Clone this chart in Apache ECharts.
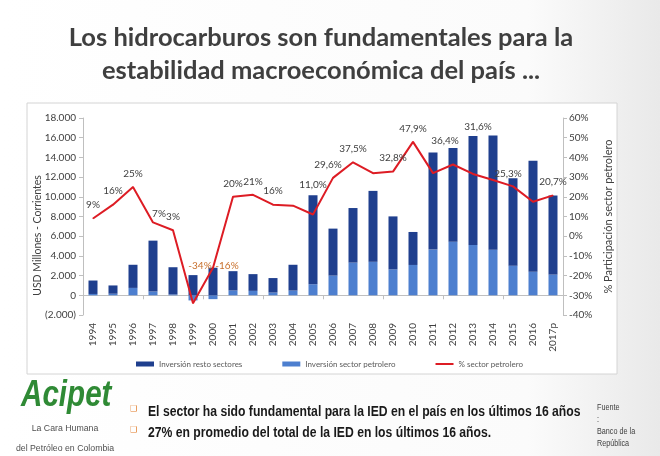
<!DOCTYPE html>
<html>
<head>
<meta charset="utf-8">
<script src="https://cdn.jsdelivr.net/npm/echarts@6/dist/echarts.min.js"></script>
<style>
  html, body { margin: 0; padding: 0; background: #fff; }
  #chart { width: 660px; height: 456px; }
</style>
</head>
<body>
<div id="chart"></div>
<script>
const years = ['1994', '1995', '1996', '1997', '1998', '1999', '2000', '2001', '2002', '2003', '2004', '2005',
  '2006', '2007', '2008', '2009', '2010', '2011', '2012', '2013', '2014', '2015', '2016', '2017p'];
// USD millones corrientes
const petrolero = [135, 160, 750, 390, 85, -520, -390, 490, 450, 280, 480, 1120,
  2000, 3320, 3400, 2630, 3080, 4640, 5440, 5110, 4630, 3010, 2390, 2100];
const resto = [1365, 840, 2350, 5160, 2765, 2050, 2800, 1960, 1700, 1470, 2620, 9050,
  4770, 5540, 7200, 5380, 3350, 9870, 9510, 11050, 11600, 8880, 11270, 8030];
// % participación sector petrolero
const pctPetrolero = [9, 16, 25, 7, 3, -34, -16, 20, 21, 16, 15.5, 11.0,
  29.6, 37.5, 32.0, 32.8, 47.9, 32.0, 36.4, 31.6, 28.5, 25.3, 17.5, 20.7];
const pctLabels = ['9%', '16%', '25%', '7%', '3%', '-34%', '-16%', '20%', '21%', '16%', '', '11,0%',
  '29,6%', '37,5%', '', '32,8%', '47,9%', '', '36,4%', '31,6%', '', '25,3%', '', '20,7%'];

const chart = echarts.init(document.getElementById('chart'));

// label nudges (x, y) so they sit like the original
const nudge = {
  3: [6, 2], 5: [7, -27], 6: [14, 9], 11: [0, -19], 12: [-5, -3],
  18: [-8, -13], 19: [5, -37], 21: [-5, -2]
};

const lineData = pctPetrolero.map((v, i) => {
  const off = nudge[i] || [0, -3];
  return {
    value: v,
    label: {
      show: pctLabels[i] !== '',
      formatter: pctLabels[i],
      offset: off,
      color: v < 0 ? '#c8702c' : '#404040'
    }
  };
});

const fmtUsd = v => {
  if (v === 0) return '0';
  const s = Math.abs(v).toLocaleString('de-DE');
  return v < 0 ? '(' + s + ')' : s;
};

const txt = '#404040';
const font = 'Lato';

chart.setOption({
  backgroundColor: {
    type: 'linear', x: 0, y: 0, x2: 1, y2: 0,
    colorStops: [{ offset: 0, color: '#ffffff' }, { offset: 0.8, color: '#fbfbfb' }, { offset: 1, color: '#e9e9e9' }]
  },
  animation: false,
  textStyle: { fontFamily: font },
  graphic: [
    {
      type: 'rect', z: -1, silent: true,
      shape: { x: 27, y: 103, width: 590, height: 271 },
      style: { fill: '#ffffff', stroke: '#d4d4d4', lineWidth: 1 }
    },
    {
      type: 'text', x: 321, y: 21,
      style: {
        text: 'Los hidrocarburos son fundamentales para la\nestabilidad macroeconómica del país ...',
        fill: '#3f3f3f', font: 'bold 25.5px Lato', align: 'center', lineHeight: 33
      }
    },
    {
      type: 'text', x: 21, y: 377, scaleX: 0.8,
      style: { text: 'Acipet', fill: '#2f8a35', font: 'italic bold 37px "Liberation Sans"' }
    },
    {
      type: 'text', x: 65, y: 418, scaleX: 0.92,
      style: {
        text: 'La Cara Humana\ndel Petróleo en Colombia', fill: '#505050',
        font: '9.5px "Liberation Sans"', align: 'center', lineHeight: 20
      }
    },
    {
      type: 'text', x: 130, y: 405,
      style: { text: '❑', fill: '#e07b28', font: '8px "DejaVu Sans"' }
    },
    {
      type: 'text', x: 130, y: 426,
      style: { text: '❑', fill: '#e07b28', font: '8px "DejaVu Sans"' }
    },
    {
      type: 'text', x: 148, y: 402, scaleX: 0.87,
      style: {
        text: 'El sector ha sido fundamental para la IED en el país en los últimos 16 años\n27% en promedio del total de la IED en los últimos 16 años.',
        fill: '#1a1a1a', font: 'bold 14px "Liberation Sans"', lineHeight: 21
      }
    },
    {
      type: 'text', x: 597, y: 402, scaleX: 0.85,
      style: {
        text: 'Fuente\n:\nBanco de la\nRepública', fill: '#404040',
        font: '8.5px "Liberation Sans"', lineHeight: 12
      }
    }
  ],
  grid: { left: 83, right: 97, top: 118, bottom: 141 },
  legend: {
    left: 131, top: 355, itemGap: 40, itemWidth: 18, itemHeight: 5,
    textStyle: { fontSize: 8, color: '#595959', fontFamily: font },
    data: [
      { name: 'Inversión resto sectores', icon: 'rect' },
      { name: 'Inversión sector petrolero', icon: 'rect' },
      { name: '% sector petrolero', icon: 'path://M0,0 L18,0 L18,2 L0,2 Z' }
    ]
  },
  xAxis: [
    {
      type: 'category', data: years,
      axisLine: { onZero: true, onZeroAxisIndex: 0, lineStyle: { color: '#bfbfbf' } },
      axisTick: { show: true, length: 4, lineStyle: { color: '#bfbfbf' } },
      axisLabel: { show: false }
    },
    {
      type: 'category', data: years, position: 'bottom',
      axisLine: { show: false, onZero: false },
      axisTick: { show: false },
      axisLabel: { rotate: 90, margin: 8, fontSize: 10, color: txt, fontFamily: font }
    }
  ],
  yAxis: [
    {
      type: 'value', min: -2000, max: 18000, interval: 2000,
      name: 'USD Millones - Corrientes', nameLocation: 'middle', nameGap: 40,
      nameMoveOverlap: false,
      nameTextStyle: { fontSize: 10.5, color: txt, fontFamily: font, padding: [0, 0, 0, -38] },
      axisLine: { show: true, lineStyle: { color: '#bfbfbf' } },
      axisTick: { show: true, length: 4, lineStyle: { color: '#bfbfbf' } },
      splitLine: { show: false },
      axisLabel: { formatter: fmtUsd, fontSize: 10, color: txt, margin: 7, fontFamily: font }
    },
    {
      type: 'value', min: -40, max: 60, interval: 10, position: 'right',
      name: '% Participación sector petrolero', nameLocation: 'middle', nameGap: 38,
      nameTextStyle: { fontSize: 11, color: txt, fontFamily: font },
      axisLine: { show: true, lineStyle: { color: '#bfbfbf' } },
      axisTick: { show: true, length: 4, lineStyle: { color: '#bfbfbf' } },
      splitLine: { show: false },
      axisLabel: { formatter: '{value}%', fontSize: 10, color: txt, margin: 6, fontFamily: font }
    }
  ],
  series: [
    {
      name: 'Inversión sector petrolero', type: 'bar', stack: 'inv',
      barWidth: 9, data: petrolero,
      itemStyle: { color: '#4d7fcf' }
    },
    {
      name: 'Inversión resto sectores', type: 'bar', stack: 'inv',
      barWidth: 9, data: resto,
      itemStyle: { color: '#1f3f8e' }
    },
    {
      name: '% sector petrolero', type: 'line', yAxisIndex: 1,
      data: lineData, symbol: 'circle', symbolSize: 1, showSymbol: true, z: 5,
      lineStyle: { color: '#dd1c24', width: 2 },
      itemStyle: { color: '#dd1c24' },
      label: { show: true, position: 'top', distance: 5, fontSize: 10, fontFamily: font }
    }
  ]
});
</script>
</body>
</html>
